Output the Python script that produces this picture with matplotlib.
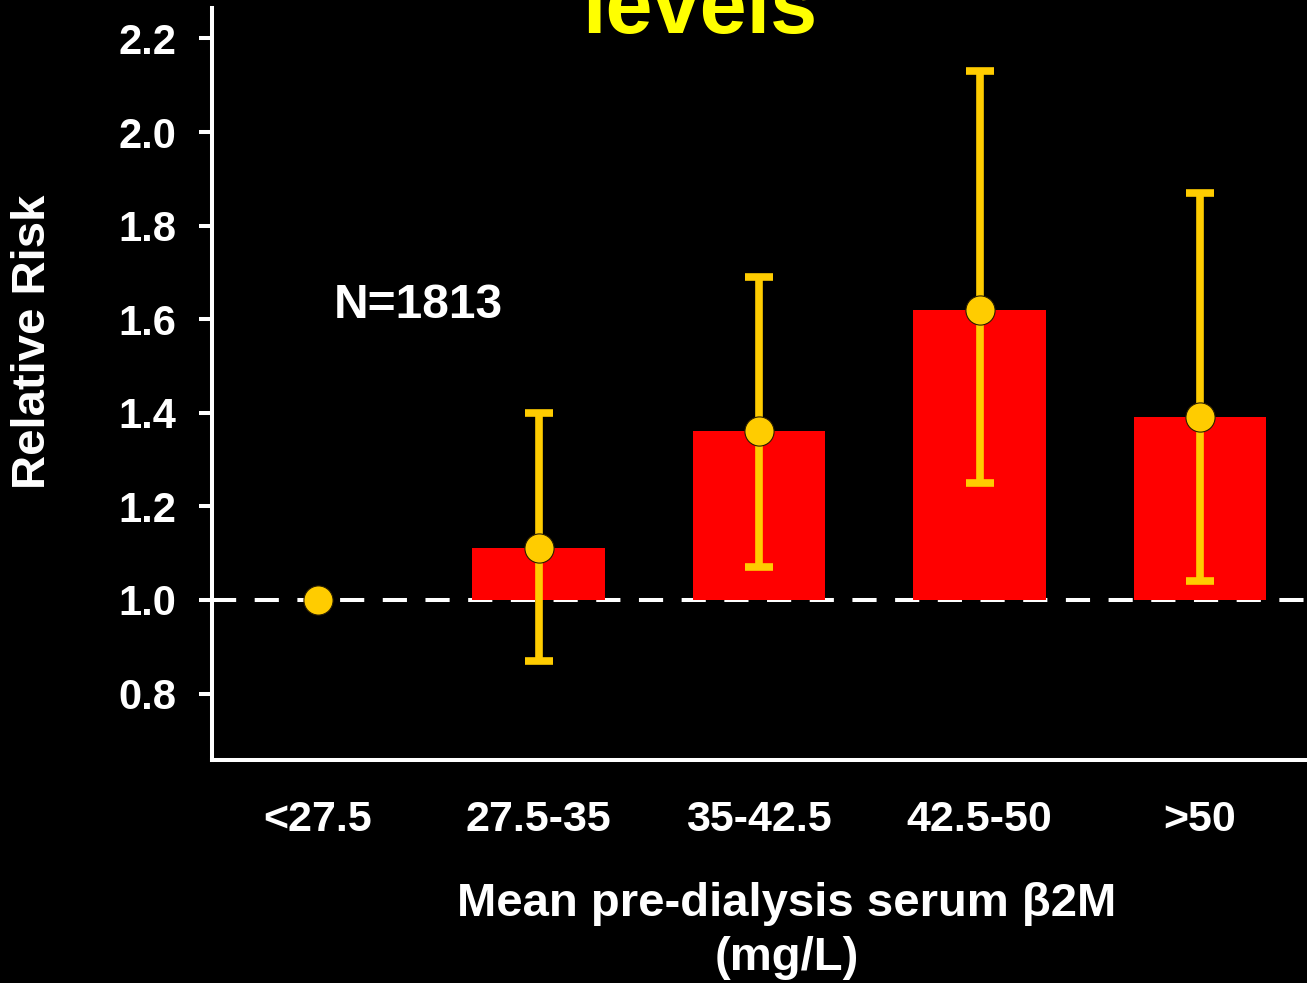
import matplotlib
matplotlib.use("Agg")
import matplotlib.pyplot as plt
import numpy as np

categories = ["<27.5", "27.5-35", "35-42.5", "42.5-50", ">50"]
relative_risk = [1.00, 1.11, 1.36, 1.62, 1.39]
ci_low = [np.nan, 0.87, 1.07, 1.25, 1.04]
ci_high = [np.nan, 1.40, 1.69, 2.13, 1.87]
y_ticks = [0.8, 1.0, 1.2, 1.4, 1.6, 1.8, 2.0, 2.2]
y_tick_labels = ["0.8", "1.0", "1.2", "1.4", "1.6", "1.8", "2.0", "2.2"]
reference_value = 1.0
n_label = "N=1813"
title_text = "levels"
x_label = "Mean pre-dialysis serum β2M\n(mg/L)"
y_label = "Relative Risk"

plt.rcParams['font.family'] = ['Liberation Sans', 'DejaVu Sans']
plt.rcParams['font.weight'] = 'bold'

W, H = 1307, 983
fig = plt.figure(figsize=(W / 100, H / 100), dpi=100, facecolor='black')
ax = fig.add_axes([212 / W, (H - 760) / H, (W - 212) / W, (760 - 8) / H])
ax.set_facecolor('black')

x = np.arange(len(categories))
rr = np.array(relative_risk)
lo = np.array(ci_low)
hi = np.array(ci_high)

# reference dashed line
ax.axhline(reference_value, color='white', lw=2.9, ls=(0, (6, 4.6)), zorder=1)

# bars from reference
bar_mask = rr != reference_value
ax.bar(x[bar_mask], rr[bar_mask] - reference_value, bottom=reference_value,
       width=0.6, color='#FF0000', edgecolor='none', zorder=2)

# error bars
err_mask = ~np.isnan(lo)
ax.errorbar(x[err_mask], rr[err_mask],
            yerr=[rr[err_mask] - lo[err_mask], hi[err_mask] - rr[err_mask]],
            fmt='none', ecolor='#FFCC00', elinewidth=5.5, capsize=10,
            capthick=5.5, zorder=3)

# point estimates
ax.plot(x, rr, 'o', color='#FFCC00', markersize=21, markeredgecolor='#2a1e00',
        markeredgewidth=0.8, zorder=4)

ax.set_xlim(-0.481, 4.485)
ax.set_ylim(0.658, 2.265)
ax.set_yticks(y_ticks)
ax.set_yticklabels(y_tick_labels)
ax.set_xticks(x)
ax.set_xticklabels(categories)

for s in ['top', 'right']:
    ax.spines[s].set_visible(False)
for s in ['left', 'bottom']:
    ax.spines[s].set_color('white')
    ax.spines[s].set_linewidth(2.9)

ax.tick_params(axis='y', colors='white', length=9.5, width=2.9, pad=16,
               labelsize=30)
ax.tick_params(axis='x', colors='white', length=0, pad=29, labelsize=31)
for lab in ax.get_xticklabels() + ax.get_yticklabels():
    lab.set_fontweight('bold')
    lab.set_color('white')

fig.text(787 / W, (H - 931) / H, x_label, color='white', fontsize=34,
         fontweight='bold', ha='center', va='center', linespacing=1.3,
         multialignment='center')
fig.text(33 / W, (H - 342) / H, y_label, color='white', fontsize=34,
         fontweight='bold', ha='center', va='center', rotation=90)

ax.text(0.07, 1.63, n_label, color='white', fontsize=34.5, fontweight='bold',
        ha='left', va='center', transform=ax.transData)

fig.text(700 / W, (H - 33) / H, title_text, color='#FFFF00', fontsize=61,
         fontweight='bold', ha='center', va='baseline')

fig.savefig('out.png', dpi=100, facecolor='black')
